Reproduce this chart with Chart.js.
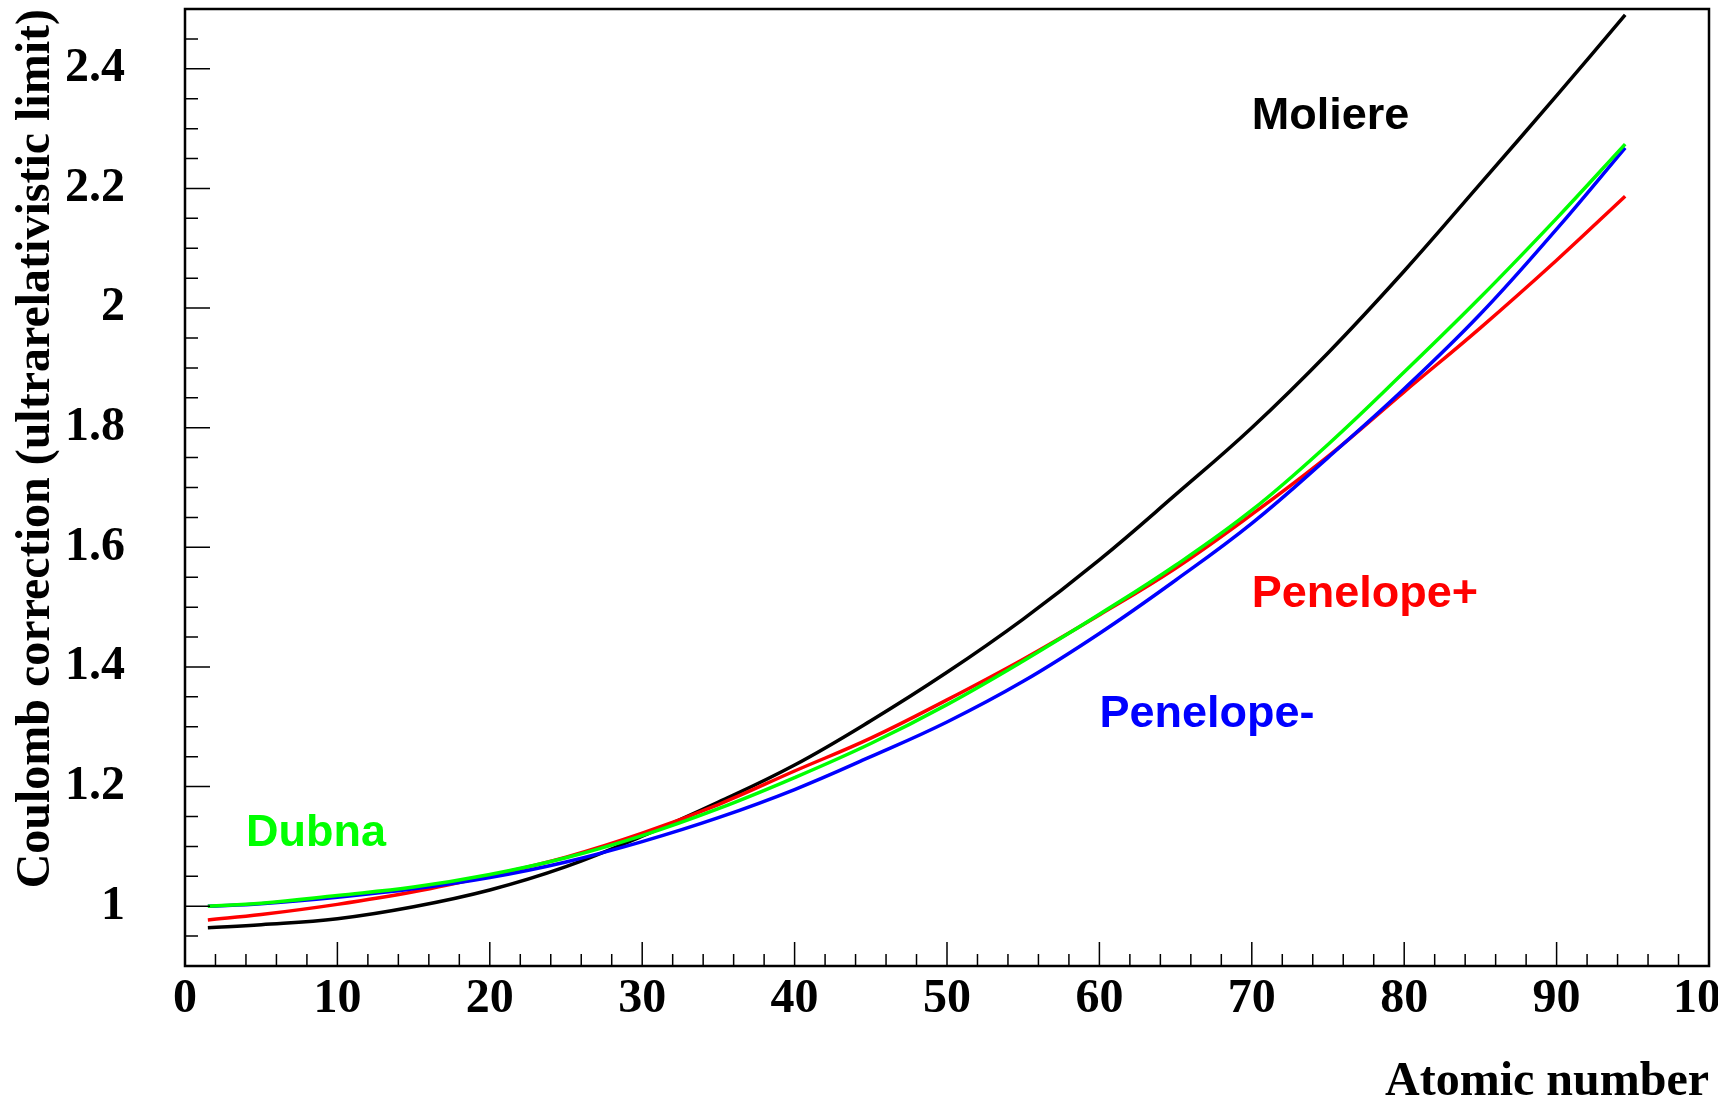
<!DOCTYPE html>
<html lang="en">
<head>
<meta charset="UTF-8"/>
<title>Coulomb correction vs atomic number</title>
<script src="https://cdn.jsdelivr.net/npm/chart.js"></script>
<style>
  html, body { margin: 0; padding: 0; background: #fff; }
  #wrap { width: 1729px; height: 1104px; }
</style>
</head>
<body>
<div id="wrap"><canvas id="cc" width="1729" height="1104"></canvas></div>
<script>
  // values
  const atomicNumber = [1.5, 5, 10, 15, 20, 25, 30, 35, 40, 45, 50, 55, 60, 65, 70, 75, 80, 85, 90, 94.5];
  const moliere       = [0.964, 0.969, 0.979, 0.999, 1.027, 1.066, 1.117, 1.174, 1.236, 1.310, 1.391, 1.480, 1.579, 1.688, 1.800, 1.925, 2.062, 2.208, 2.355, 2.490];
  const penelopePlus  = [0.977, 0.986, 1.003, 1.024, 1.051, 1.082, 1.122, 1.170, 1.226, 1.281, 1.345, 1.413, 1.487, 1.565, 1.655, 1.752, 1.860, 1.967, 2.080, 2.187];
  const penelopeMinus = [1.000, 1.004, 1.015, 1.029, 1.048, 1.074, 1.108, 1.148, 1.195, 1.250, 1.308, 1.376, 1.456, 1.545, 1.640, 1.750, 1.865, 1.990, 2.132, 2.268];
  const dubna         = [1.000, 1.005, 1.018, 1.032, 1.053, 1.081, 1.118, 1.163, 1.215, 1.272, 1.337, 1.410, 1.488, 1.570, 1.662, 1.772, 1.893, 2.018, 2.150, 2.274];

  const xTicks = [0, 10, 20, 30, 40, 50, 60, 70, 80, 90, 100];
  const yTicks = [1, 1.2, 1.4, 1.6, 1.8, 2, 2.2, 2.4];

  const curveLabels = [
    { text: 'Moliere',   z: 70, v: 2.3, color: '#000000' },
    { text: 'Penelope+', z: 70, v: 1.5, color: '#ff0000' },
    { text: 'Penelope-', z: 60, v: 1.3, color: '#0000ff' },
    { text: 'Dubna',     z: 4,  v: 1.1, color: '#00ff00' }
  ];

  const serif = '"Liberation Serif", "Times New Roman", serif';

  function pts(series) {
    return atomicNumber.map((z, i) => ({ x: z, y: series[i] }));
  }

  function curve(data, color) {
    return {
      data: pts(data),
      borderColor: color,
      borderWidth: 3.5,
      pointRadius: 0,
      fill: false,
      tension: 0.4
    };
  }

  // ROOT-style frame with inward ticks, last x label cut like in the original
  const frameTicks = {
    id: 'frameTicks',
    beforeDraw(chart) {
      const c = chart.ctx;
      c.save();
      c.beginPath();
      c.rect(0, 0, 1718, chart.height);
      c.clip();
    },
    afterDraw(chart) {
      const { ctx, chartArea: a, scales: { x, y } } = chart;
      ctx.save();
      ctx.strokeStyle = '#000';
      ctx.lineWidth = 1.5;
      ctx.beginPath();
      for (let z = 2; z < 100; z += 2) {
        const px = x.getPixelForValue(z);
        const len = z % 10 === 0 ? 24 : 12;
        ctx.moveTo(px, a.bottom);
        ctx.lineTo(px, a.bottom - len);
      }
      for (let i = 19; i < 50; i++) {
        const py = y.getPixelForValue(i * 0.05);
        const len = i % 4 === 0 ? 25 : 13;
        ctx.moveTo(a.left, py);
        ctx.lineTo(a.left + len, py);
      }
      ctx.stroke();
      ctx.lineWidth = 2.5;
      ctx.strokeRect(a.left, a.top, a.right - a.left, a.bottom - a.top);
      ctx.restore();
      ctx.restore();
    }
  };

  const textLabels = {
    id: 'textLabels',
    afterDatasetsDraw(chart) {
      const { ctx, scales: { x, y } } = chart;
      ctx.save();
      ctx.font = 'bold 45px "Liberation Sans", Arial, sans-serif';
      ctx.textAlign = 'left';
      ctx.textBaseline = 'alphabetic';
      curveLabels.forEach(l => {
        ctx.fillStyle = l.color;
        ctx.fillText(l.text, x.getPixelForValue(l.z), y.getPixelForValue(l.v));
      });
      ctx.restore();
    }
  };

  new Chart(document.getElementById('cc'), {
    type: 'line',
    data: {
      datasets: [
        curve(dubna, '#00ff00'),
        curve(penelopeMinus, '#0000ff'),
        curve(penelopePlus, '#ff0000'),
        curve(moliere, '#000000')
      ]
    },
    options: {
      responsive: false,
      animation: false,
      layout: { padding: { top: 9, right: 20, left: 0, bottom: 0 } },
      plugins: { legend: { display: false }, tooltip: { enabled: false } },
      scales: {
        x: {
          type: 'linear',
          min: 0,
          max: 100,
          afterBuildTicks: s => { s.ticks = xTicks.map(v => ({ value: v })); },
          afterFit: s => { s.height = 138; s.paddingLeft = 0; s.paddingRight = 0; },
          grid: { display: false, drawTicks: false },
          border: { display: false },
          ticks: {
            color: '#000',
            padding: 10,
            maxRotation: 0,
            autoSkip: false,
            font: { family: serif, weight: 'bold', size: 48, lineHeight: 1 }
          },
          title: {
            display: true,
            text: 'Atomic number',
            align: 'end',
            color: '#000',
            padding: 0,
            font: { family: serif, weight: 'bold', size: 48, lineHeight: 0.9 }
          }
        },
        y: {
          type: 'linear',
          min: 0.9,
          max: 2.5,
          afterBuildTicks: s => { s.ticks = yTicks.map(v => ({ value: v })); },
          afterFit: s => { s.width = 185; s.paddingTop = 0; s.paddingBottom = 0; },
          grid: { display: false, drawTicks: false },
          border: { display: false },
          ticks: {
            color: '#000',
            padding: 60,
            callback: v => String(+v.toFixed(1)),
            font: { family: serif, weight: 'bold', size: 48, lineHeight: 1 }
          },
          title: {
            display: true,
            text: 'Coulomb correction (ultrarelativistic limit)',
            align: 'end',
            color: '#000',
            padding: { top: 13, bottom: 0 },
            font: { family: serif, weight: 'bold', size: 48, lineHeight: 1 }
          }
        }
      }
    },
    plugins: [frameTicks, textLabels]
  });
</script>
</body>
</html>
